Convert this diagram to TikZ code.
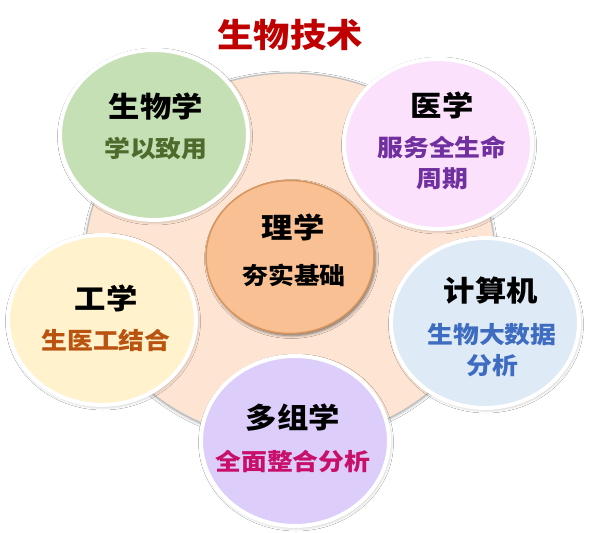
\documentclass[tikz,border=0pt]{standalone}
\usepackage{fontspec}
\newfontfamily\cjk{Noto Sans CJK SC}
\usetikzlibrary{shapes.geometric,shadows.blur}
\definecolor{titlered}{HTML}{C00000}
\definecolor{peach}{HTML}{FDE4D3}
\definecolor{greenfill}{HTML}{C5E0B4}
\definecolor{greentext}{HTML}{4E6A2C}
\definecolor{pinkfill}{HTML}{FBE1FB}
\definecolor{purpletext}{HTML}{7030A0}
\definecolor{yellowfill}{HTML}{FFF2CC}
\definecolor{browntext}{HTML}{B9530F}
\definecolor{bluefill}{HTML}{DEEAF6}
\definecolor{bluetext}{HTML}{3D6CC0}
\definecolor{lavfill}{HTML}{DCCDFB}
\definecolor{magtext}{HTML}{C8106A}
\definecolor{orangefill}{HTML}{F9C193}
\definecolor{orangeedge}{HTML}{D9965E}
\begin{document}
\begin{tikzpicture}[x=1pt,y=-1pt,
  bubble/.style={ellipse, draw=white, line width=4pt, minimum width=188pt,
    minimum height=170pt, inner sep=0pt,
    blur shadow={shadow xshift=1pt, shadow yshift=-1.5pt, shadow blur radius=3.5pt, shadow opacity=32}},
  head/.style={font=\cjk\bfseries\fontsize{28.5}{30}\selectfont, text=black, xscale=1.1, inner sep=0pt},
  sub/.style={font=\cjk\bfseries\fontsize{23.5}{31}\selectfont, xscale=1.1, inner sep=0pt, align=center},
]
\useasboundingbox (0,0) rectangle (590,533);
\fill[white] (0,0) rectangle (590,533);

% base disc
\node[ellipse, minimum width=410pt, minimum height=368pt, inner sep=0pt,
  fill=peach, draw=black!25, line width=1.2pt,
  blur shadow={shadow xshift=0pt, shadow yshift=-1pt, shadow blur radius=3pt, shadow opacity=35}]
  (base) at (290,257) {};

% outer bubbles
\node[bubble, fill=greenfill]  (bio)  at (154,135) {};
\node[bubble, fill=pinkfill]   (med)  at (438,144) {};
\node[bubble, fill=yellowfill] (eng)  at (102,320) {};
\node[bubble, fill=bluefill]   (comp) at (485,323) {};
\node[bubble, fill=lavfill]    (omic) at (295,441) {};

% centre disc
\node[ellipse, minimum width=168pt, minimum height=153pt, inner sep=0pt,
  fill=orangefill, draw=orangeedge, line width=1.5pt,
  blur shadow={shadow xshift=1.5pt, shadow yshift=-2pt, shadow blur radius=3pt, shadow opacity=55}]
  (sci) at (290,257) {};

% title
\node[font=\cjk\bfseries\fontsize{33}{36}\selectfont, text=titlered, xscale=1.1, inner sep=0pt]
  (title) at (290,35) {生物技术};

% texts
\node[head] (bioH) at (156,107) {生物学};
\node[sub, text=greentext] (bioS) at (156,149) {学以致用};

\node[head] (medH) at (442,105) {医学};
\node[sub, text=purpletext] (medS) at (442,162.5) {服务全生命\\周期};

\node[head] (sciH) at (293,227) {理学};
\node[sub, text=black] (sciS) at (294,275) {夯实基础};

\node[head] (engH) at (106,298) {工学};
\node[sub, text=browntext] (engS) at (106,340) {生医工结合};

\node[head] (compH) at (491,291) {计算机};
\node[sub, text=bluetext] (compS) at (492,350) {生物大数据\\分析};

\node[head] (omicH) at (293,418) {多组学};
\node[sub, text=magtext] (omicS) at (293,461) {全面整合分析};
\end{tikzpicture}
\end{document}
